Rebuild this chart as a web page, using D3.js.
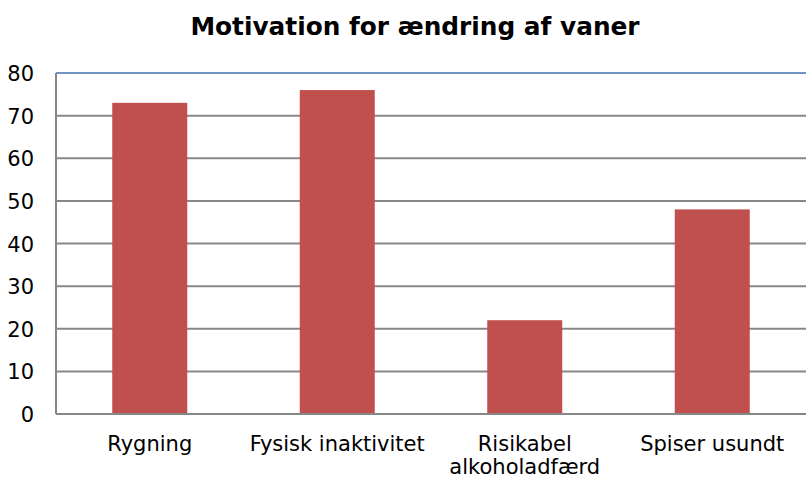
<!DOCTYPE html>
<html>
<head>
<meta charset="utf-8">
<script src="https://d3js.org/d3.v7.min.js"></script>
<style>
  body { margin: 0; background: #fff; }
  text { font-family: "DejaVu Sans", Verdana, sans-serif; fill: #000; }
</style>
</head>
<body>
<script>
  var categories = [["Rygning"], ["Fysisk inaktivitet"], ["Risikabel", "alkoholadfærd"], ["Spiser usundt"]];
  var values = [73, 76, 22, 48];
  var yTicks = [0, 10, 20, 30, 40, 50, 60, 70, 80];
  var title = "Motivation for ændring af vaner";

  var W = 806, H = 478;
  var m = {left: 56, right: 0, top: 73, bottom: 64};

  var svg = d3.select("body").append("svg").attr("width", W).attr("height", H);

  var x = d3.scaleBand().domain(d3.range(categories.length))
    .range([m.left, W - m.right]).paddingInner(0.6).paddingOuter(0.3);
  var y = d3.scaleLinear().domain([0, 80]).range([H - m.bottom, m.top]);

  svg.append("text").attr("x", 415).attr("y", 35).attr("text-anchor", "middle")
    .style("font-size", "24.8px").style("font-weight", "bold").text(title);

  // gridlines
  svg.append("g").selectAll("line").data(yTicks.filter(function(d){ return d > 0; }))
    .enter().append("line")
    .attr("x1", m.left).attr("x2", W)
    .attr("y1", function(d){ return y(d); }).attr("y2", function(d){ return y(d); })
    .attr("stroke", function(d){ return d === 80 ? "#6f93c3" : "#878787"; })
    .attr("stroke-width", 2);

  var yAxis = svg.append("g").attr("transform", "translate(" + m.left + ",0)")
    .call(d3.axisLeft(y).tickValues(yTicks).tickSize(0).tickPadding(22));
  yAxis.select(".domain").remove();
  yAxis.selectAll("text").style("font-size", "21px").attr("dy", "0.36em");

  svg.append("g").selectAll("rect").data(values).enter().append("rect")
    .attr("x", function(d, i){ return x(i); })
    .attr("width", x.bandwidth())
    .attr("y", function(d){ return y(d); })
    .attr("height", function(d){ return y(0) - y(d); })
    .attr("fill", "#c0504d");

  // axes lines
  svg.append("line").attr("x1", m.left).attr("x2", m.left).attr("y1", y(80)).attr("y2", y(0))
    .attr("stroke", "#878787").attr("stroke-width", 2);
  svg.append("line").attr("x1", m.left).attr("x2", W).attr("y1", y(0)).attr("y2", y(0))
    .attr("stroke", "#878787").attr("stroke-width", 2);

  var lab = svg.append("g").selectAll("text").data(categories).enter().append("text")
    .attr("text-anchor", "middle")
    .attr("x", function(d, i){ return x(i) + x.bandwidth() / 2; })
    .attr("y", 451)
    .style("font-size", "21px");
  lab.selectAll("tspan").data(function(d){ return d; }).enter().append("tspan")
    .attr("x", function(){ return d3.select(this.parentNode).attr("x"); })
    .attr("dy", function(d, i){ return i ? 23 : 0; })
    .text(function(d){ return d; });
</script>
</body>
</html>
